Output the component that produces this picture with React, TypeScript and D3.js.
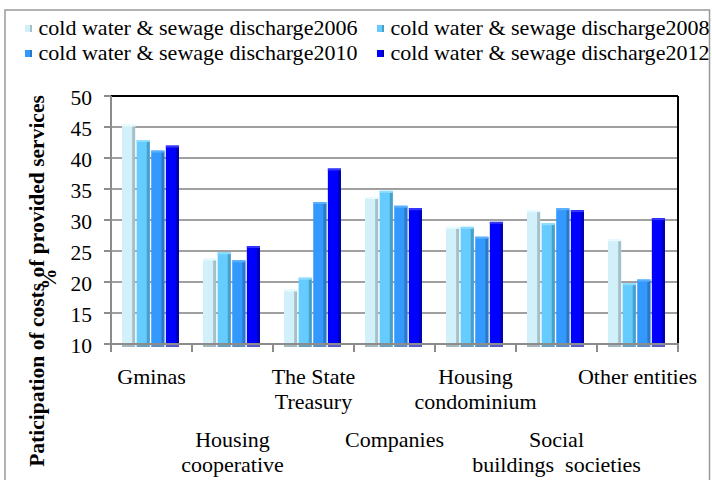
import React from "react";
import * as d3 from "d3";

const categories: string[][] = [
  ["Gminas"],
  ["Housing", "cooperative"],
  ["The State", "Treasury"],
  ["Companies"],
  ["Housing", "condominium"],
  ["Social", "buildings  societies"],
  ["Other entities"],
];
const seriesNames = [
  "cold water & sewage discharge2006",
  "cold water & sewage discharge2008",
  "cold water & sewage discharge2010",
  "cold water & sewage discharge2012",
];
const v2006 = [45.4, 23.8, 18.8, 33.7, 28.9, 31.6, 26.9];
const v2008 = [42.9, 24.8, 20.7, 34.7, 28.9, 29.5, 19.8];
const v2010 = [41.2, 23.5, 32.9, 32.3, 27.3, 31.9, 20.4];
const v2012 = [42.0, 25.8, 38.3, 31.9, 29.7, 31.6, 30.3];
const yTicks = [10, 15, 20, 25, 30, 35, 40, 45, 50];

const series = [v2006, v2008, v2010, v2012];
const fronts = ["#d2f0f9", "#66ccff", "#3399ff", "#0000ff"];
const sides = ["#a6c0ca", "#4a9fc8", "#2a78c8", "#0000b8"];
const tops = ["#e8fbff", "#8fdcff", "#5ab0ff", "#3535ff"];
const bases = ["#a6b6bd", "#6aa0bb", "#5f8fbf", "#5a5ac8"];

const FONT = "'Liberation Serif', 'Times New Roman', serif";

export default function App() {
  const W = 712, H = 480;
  const x0 = 111, x1 = 678, yTop = 96, yBot = 344;
  const y = d3.scaleLinear().domain([10, 50]).range([yBot, yTop]);
  const xBand = d3.scaleBand<number>().domain(d3.range(categories.length)).range([x0, x1]);
  const inner = d3.scaleBand<number>().domain([0, 1, 2, 3]).range([11, xBand.bandwidth() - 13]).paddingInner(0.1);

  return (
    <svg width={W} height={H} style={{ position: "absolute", left: 0, top: 0 }} fontFamily={FONT}>
      <rect x={5} y={10} width={704.5} height={480} fill="#fff" stroke="#999" strokeWidth={1.5} />
      {/* legend */}
      {seriesNames.map((s, i) => {
        const col = i % 2, row = Math.floor(i / 2);
        const lx = col === 0 ? 25 : 377;
        const ly = row === 0 ? 35 : 60;
        return (
          <g key={s}>
            <rect x={lx} y={ly - 10} width={7} height={7} fill={fronts[i]} />
            <rect x={lx + 5} y={ly - 10} width={2} height={7} fill={sides[i]} />
            <text x={lx + 13.5} y={ly} fontSize={21} textLength={319} lengthAdjust="spacingAndGlyphs" fill="#000">{s}</text>
          </g>
        );
      })}
      {/* gridlines */}
      {yTicks.filter(t => t > 10 && t < 50).map(t => (
        <line key={t} x1={x0} x2={x1} y1={y(t)} y2={y(t)} stroke="#a0a0a0" strokeWidth={2} />
      ))}
      {/* bars */}
      {categories.map((_, ci) => (
        <g key={ci} transform={`translate(${xBand(ci)},0)`}>
          {series.map((vals, si) => {
            const bx = inner(si)!;
            const bw = inner.bandwidth();
            const top = y(vals[ci]);
            return (
              <g key={si}>
                <rect x={bx} y={yBot} width={bw} height={3} fill={bases[si]} />
                <rect x={bx} y={top} width={bw} height={yBot - top} fill={fronts[si]} />
                <rect x={bx + bw - 3} y={top + 1} width={3} height={yBot - top - 1} fill={sides[si]} />
                <rect x={bx} y={top} width={bw} height={2} fill={tops[si]} />
              </g>
            );
          })}
        </g>
      ))}
      {/* axes */}
      <line x1={x0} x2={x1} y1={yTop} y2={yTop} stroke="#000" strokeWidth={2} />
      <line x1={x1} x2={x1} y1={yTop} y2={yBot} stroke="#000" strokeWidth={2} />
      <line x1={x0} x2={x0} y1={yTop} y2={yBot + 1} stroke="#8c8c8c" strokeWidth={2} />
      <line x1={x0 - 1} x2={x1 + 1} y1={yBot} y2={yBot} stroke="#8c8c8c" strokeWidth={2} />
      {yTicks.map(t => (
        <g key={t}>
          <line x1={x0 - 7} x2={x0} y1={y(t)} y2={y(t)} stroke="#8c8c8c" strokeWidth={2} />
          <text x={92} y={y(t) + 8.5} fontSize={21.5} textAnchor="end">{t}</text>
        </g>
      ))}
      {d3.range(categories.length + 1).map(i => {
        const xx = i < categories.length ? xBand(i)! : x1;
        return <line key={i} x1={xx} x2={xx} y1={yBot} y2={yBot + 8} stroke="#8c8c8c" strokeWidth={2} />;
      })}
      {/* category labels */}
      {categories.map((lines, i) => {
        const cx = xBand(i)! + xBand.bandwidth() / 2;
        const base = i % 2 === 0 ? 384 : 447;
        return (
          <text key={i} x={cx} y={base} fontSize={22} textAnchor="middle">
            {lines.map((l, k) => (
              <tspan key={k} x={cx} dy={k === 0 ? 0 : 25} style={{ whiteSpace: "pre" }}>{l}</tspan>
            ))}
          </text>
        );
      })}
      {/* y title */}
      <text transform="translate(44,281) rotate(-90)" fontSize={21.5} fontWeight="bold" textAnchor="middle">
        Paticipation of costs of provided services
      </text>
      <text transform="translate(56,279) rotate(-90)" fontSize={21} fontWeight="bold" textAnchor="middle">%</text>
    </svg>
  );
}
